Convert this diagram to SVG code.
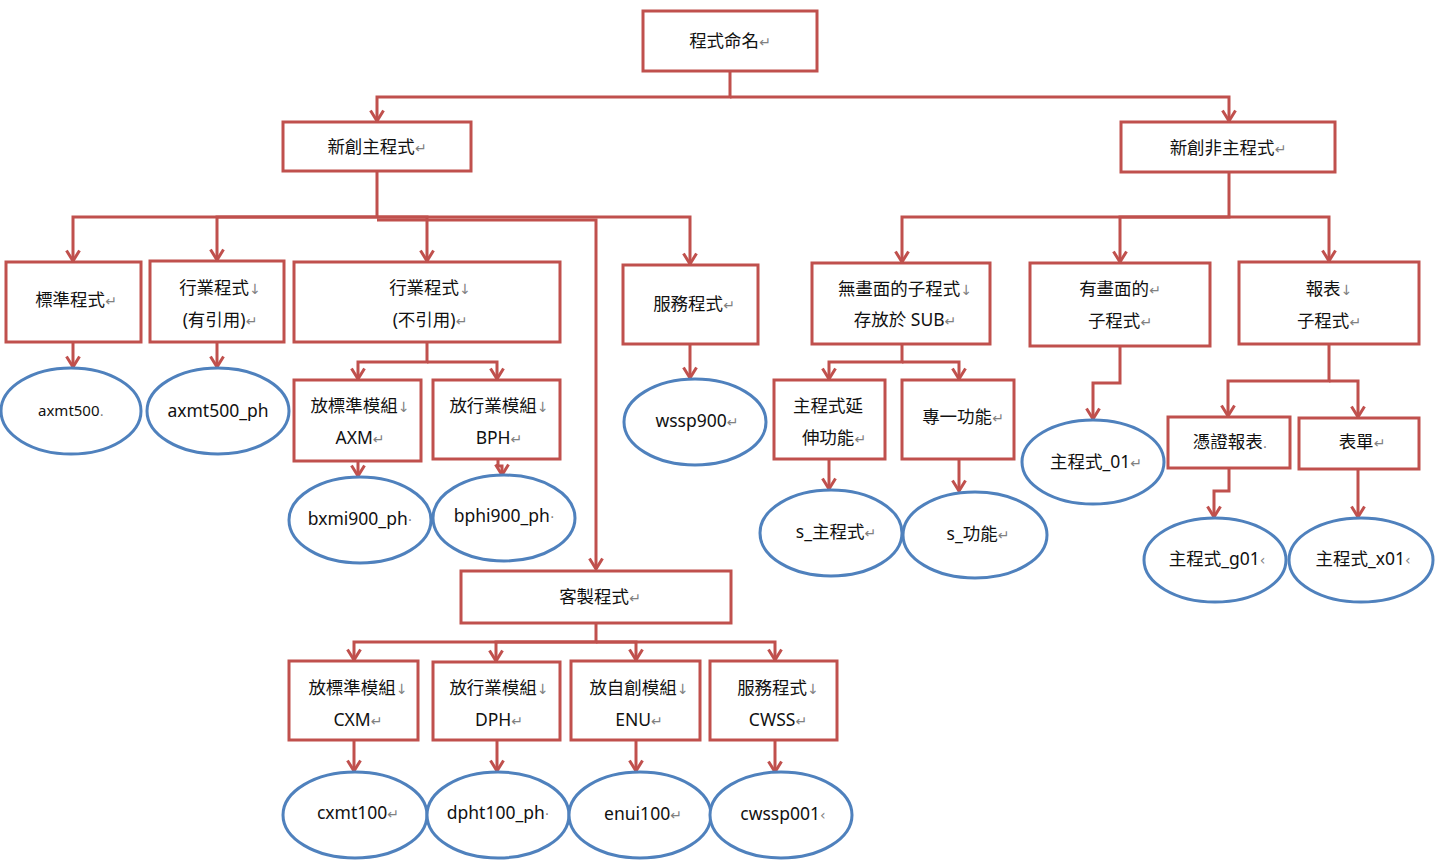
<svg xmlns="http://www.w3.org/2000/svg" width="1436" height="866" viewBox="0 0 1436 866">
<defs>
<style>
.b{fill:#fff;stroke:#c0504d;stroke-width:3}
.e{fill:#fff;stroke:#4f81bd;stroke-width:3}
.c{fill:none;stroke:#c0504d;stroke-width:3}
text{font-family:"Noto Sans","Noto Sans CJK TC",sans-serif;font-size:17.5px;fill:#111;text-anchor:middle}
.m{fill:#808080;font-size:14px;font-family:"DejaVu Sans",sans-serif}
</style>
<marker id="a" viewBox="0 0 14 16" refX="12" refY="8" markerWidth="14" markerHeight="16" markerUnits="userSpaceOnUse" orient="auto">
<path d="M1.5,1.5 L12,8 L1.5,14.5" fill="none" stroke="#c0504d" stroke-width="3"/>
</marker>
</defs>
<rect width="1436" height="866" fill="#fff"/>
<g id="connectors" class="c" marker-end="url(#a)">
<path d="M730,71 V97 H377 V121"/>
<path d="M730,97 H1229 V121"/>
<path d="M377,171 V217 H73 V261"/>
<path d="M377,217 H217 V260"/>
<path d="M377,217 H427 V261"/>
<path d="M377,217 H690 V264"/>
<path d="M377,220 H596 V569"/>
<path d="M73,342 V367"/>
<path d="M217,342 V367"/>
<path d="M427,342 V362 H358 V379"/>
<path d="M427,362 H497 V379"/>
<path d="M358,461 V476"/>
<path d="M498,459 V466 H502 V475"/>
<path d="M690,344 V378"/>
<path d="M1229,172 V217 H902 V262"/>
<path d="M1229,217 H1120 V262"/>
<path d="M1229,217 H1329 V261"/>
<path d="M902,344 V362 H829 V379"/>
<path d="M902,362 H959 V379"/>
<path d="M829,459 V489"/>
<path d="M959,459 V491"/>
<path d="M1120,346 V383 H1093 V419"/>
<path d="M1329,344 V381 H1228 V416"/>
<path d="M1329,381 H1358 V417"/>
<path d="M1229,468 V491 H1214 V517"/>
<path d="M1358,469 V517"/>
<path d="M596,623 V642 H354 V660"/>
<path d="M596,642 H496 V661"/>
<path d="M596,642 H636 V660"/>
<path d="M596,642 H775 V660"/>
<path d="M354,740 V771"/>
<path d="M497,740 V771"/>
<path d="M636,740 V771"/>
<path d="M775,740 V772"/>
</g>
<g id="n-root"><rect class="b" x="643" y="11" width="174" height="60"/><text x="730" y="47">程式命名<tspan class="m">↵</tspan></text></g>
<g id="n-main"><rect class="b" x="283" y="122" width="188" height="49"/><text x="377" y="153">新創主程式<tspan class="m">↵</tspan></text></g>
<g id="n-nonmain"><rect class="b" x="1121" y="122" width="214" height="50"/><text x="1228" y="154">新創非主程式<tspan class="m">↵</tspan></text></g>
<g id="n-std"><rect class="b" x="6" y="262" width="135" height="80"/><text x="76" y="306">標準程式<tspan class="m">↵</tspan></text></g>
<g id="n-ind1"><rect class="b" x="150" y="261" width="134" height="81"/><text x="220" y="294">行業程式<tspan class="m">↓</tspan></text><text x="220" y="326">(有引用)<tspan class="m">↵</tspan></text></g>
<g id="n-ind2"><rect class="b" x="294" y="262" width="266" height="80"/><text x="430" y="294">行業程式<tspan class="m">↓</tspan></text><text x="430" y="326">(不引用)<tspan class="m">↵</tspan></text></g>
<g id="n-svc"><rect class="b" x="623" y="265" width="135" height="79"/><text x="694" y="310">服務程式<tspan class="m">↵</tspan></text></g>
<g id="n-nosub"><rect class="b" x="812" y="263" width="178" height="81"/><text x="905" y="295">無畫面的子程式<tspan class="m">↓</tspan></text><text x="905" y="326">存放於 SUB<tspan class="m">↵</tspan></text></g>
<g id="n-scrsub"><rect class="b" x="1030" y="263" width="180" height="83"/><text x="1120" y="295">有畫面的<tspan class="m">↵</tspan></text><text x="1120" y="327">子程式<tspan class="m">↵</tspan></text></g>
<g id="n-rpt"><rect class="b" x="1239" y="262" width="180" height="82"/><text x="1329" y="295">報表<tspan class="m">↓</tspan></text><text x="1329" y="327">子程式<tspan class="m">↵</tspan></text></g>
<g id="n-axmt"><ellipse class="e" cx="71" cy="411" rx="70" ry="43"/><text x="71" y="416" style="font-size:15px">axmt500<tspan class="m">.</tspan></text></g>
<g id="n-axmtph"><ellipse class="e" cx="218" cy="411" rx="71" ry="43"/><text x="218" y="417">axmt500_ph</text></g>
<g id="n-axm"><rect class="b" x="294" y="380" width="127" height="81"/><text x="360" y="412">放標準模組<tspan class="m">↓</tspan></text><text x="360" y="444">AXM<tspan class="m">↵</tspan></text></g>
<g id="n-bph"><rect class="b" x="433" y="380" width="127" height="79"/><text x="499" y="412">放行業模組<tspan class="m">↓</tspan></text><text x="499" y="444">BPH<tspan class="m">↵</tspan></text></g>
<g id="n-bxmi"><ellipse class="e" cx="360" cy="520" rx="71" ry="43"/><text x="360" y="525">bxmi900_ph<tspan class="m">·</tspan></text></g>
<g id="n-bphi"><ellipse class="e" cx="504" cy="518" rx="71" ry="43"/><text x="504" y="522">bphi900_ph<tspan class="m">·</tspan></text></g>
<g id="n-wssp"><ellipse class="e" cx="695" cy="422" rx="71" ry="43"/><text x="697" y="427">wssp900<tspan class="m">↵</tspan></text></g>
<g id="n-ext"><rect class="b" x="774" y="380" width="111" height="79"/><text x="828" y="412">主程式延</text><text x="834" y="444">伸功能<tspan class="m">↵</tspan></text></g>
<g id="n-single"><rect class="b" x="902" y="380" width="112" height="79"/><text x="963" y="423">專一功能<tspan class="m">↵</tspan></text></g>
<g id="n-smain"><ellipse class="e" cx="831" cy="533" rx="71" ry="43"/><text x="836" y="538">s_主程式<tspan class="m">↵</tspan></text></g>
<g id="n-sfunc"><ellipse class="e" cx="975" cy="535" rx="72" ry="43"/><text x="978" y="540">s_功能<tspan class="m">↵</tspan></text></g>
<g id="n-main01"><ellipse class="e" cx="1093" cy="462" rx="71" ry="42"/><text x="1096" y="468">主程式_01<tspan class="m">↵</tspan></text></g>
<g id="n-voucher"><rect class="b" x="1168" y="417" width="122" height="51"/><text x="1230" y="448">憑證報表<tspan class="m">.</tspan></text></g>
<g id="n-form"><rect class="b" x="1299" y="418" width="120" height="51"/><text x="1362" y="448">表單<tspan class="m">↵</tspan></text></g>
<g id="n-g01"><ellipse class="e" cx="1215" cy="560" rx="71" ry="42"/><text x="1217" y="565">主程式_g01<tspan class="m">‹</tspan></text></g>
<g id="n-x01"><ellipse class="e" cx="1361" cy="560" rx="72" ry="42"/><text x="1363" y="565">主程式_x01<tspan class="m">‹</tspan></text></g>
<g id="n-custom"><rect class="b" x="461" y="571" width="270" height="52"/><text x="600" y="603">客製程式<tspan class="m">↵</tspan></text></g>
<g id="n-cxm"><rect class="b" x="289" y="661" width="129" height="79"/><text x="358" y="694">放標準模組<tspan class="m">↓</tspan></text><text x="358" y="726">CXM<tspan class="m">↵</tspan></text></g>
<g id="n-dph"><rect class="b" x="433" y="662" width="127" height="78"/><text x="499" y="694">放行業模組<tspan class="m">↓</tspan></text><text x="499" y="726">DPH<tspan class="m">↵</tspan></text></g>
<g id="n-enu"><rect class="b" x="571" y="661" width="129" height="79"/><text x="639" y="694">放自創模組<tspan class="m">↓</tspan></text><text x="639" y="726">ENU<tspan class="m">↵</tspan></text></g>
<g id="n-cwss"><rect class="b" x="710" y="661" width="127" height="79"/><text x="778" y="694">服務程式<tspan class="m">↓</tspan></text><text x="778" y="726">CWSS<tspan class="m">↵</tspan></text></g>
<g id="n-cxmt"><ellipse class="e" cx="355" cy="815" rx="72" ry="43"/><text x="358" y="819">cxmt100<tspan class="m">↵</tspan></text></g>
<g id="n-dpht"><ellipse class="e" cx="498" cy="815" rx="71" ry="43"/><text x="498" y="819">dpht100_ph<tspan class="m">·</tspan></text></g>
<g id="n-enui"><ellipse class="e" cx="640" cy="815" rx="71" ry="43"/><text x="643" y="820">enui100<tspan class="m">↵</tspan></text></g>
<g id="n-cwssp"><ellipse class="e" cx="781" cy="815" rx="71" ry="43"/><text x="783" y="820">cwssp001<tspan class="m">‹</tspan></text></g>
</svg>
